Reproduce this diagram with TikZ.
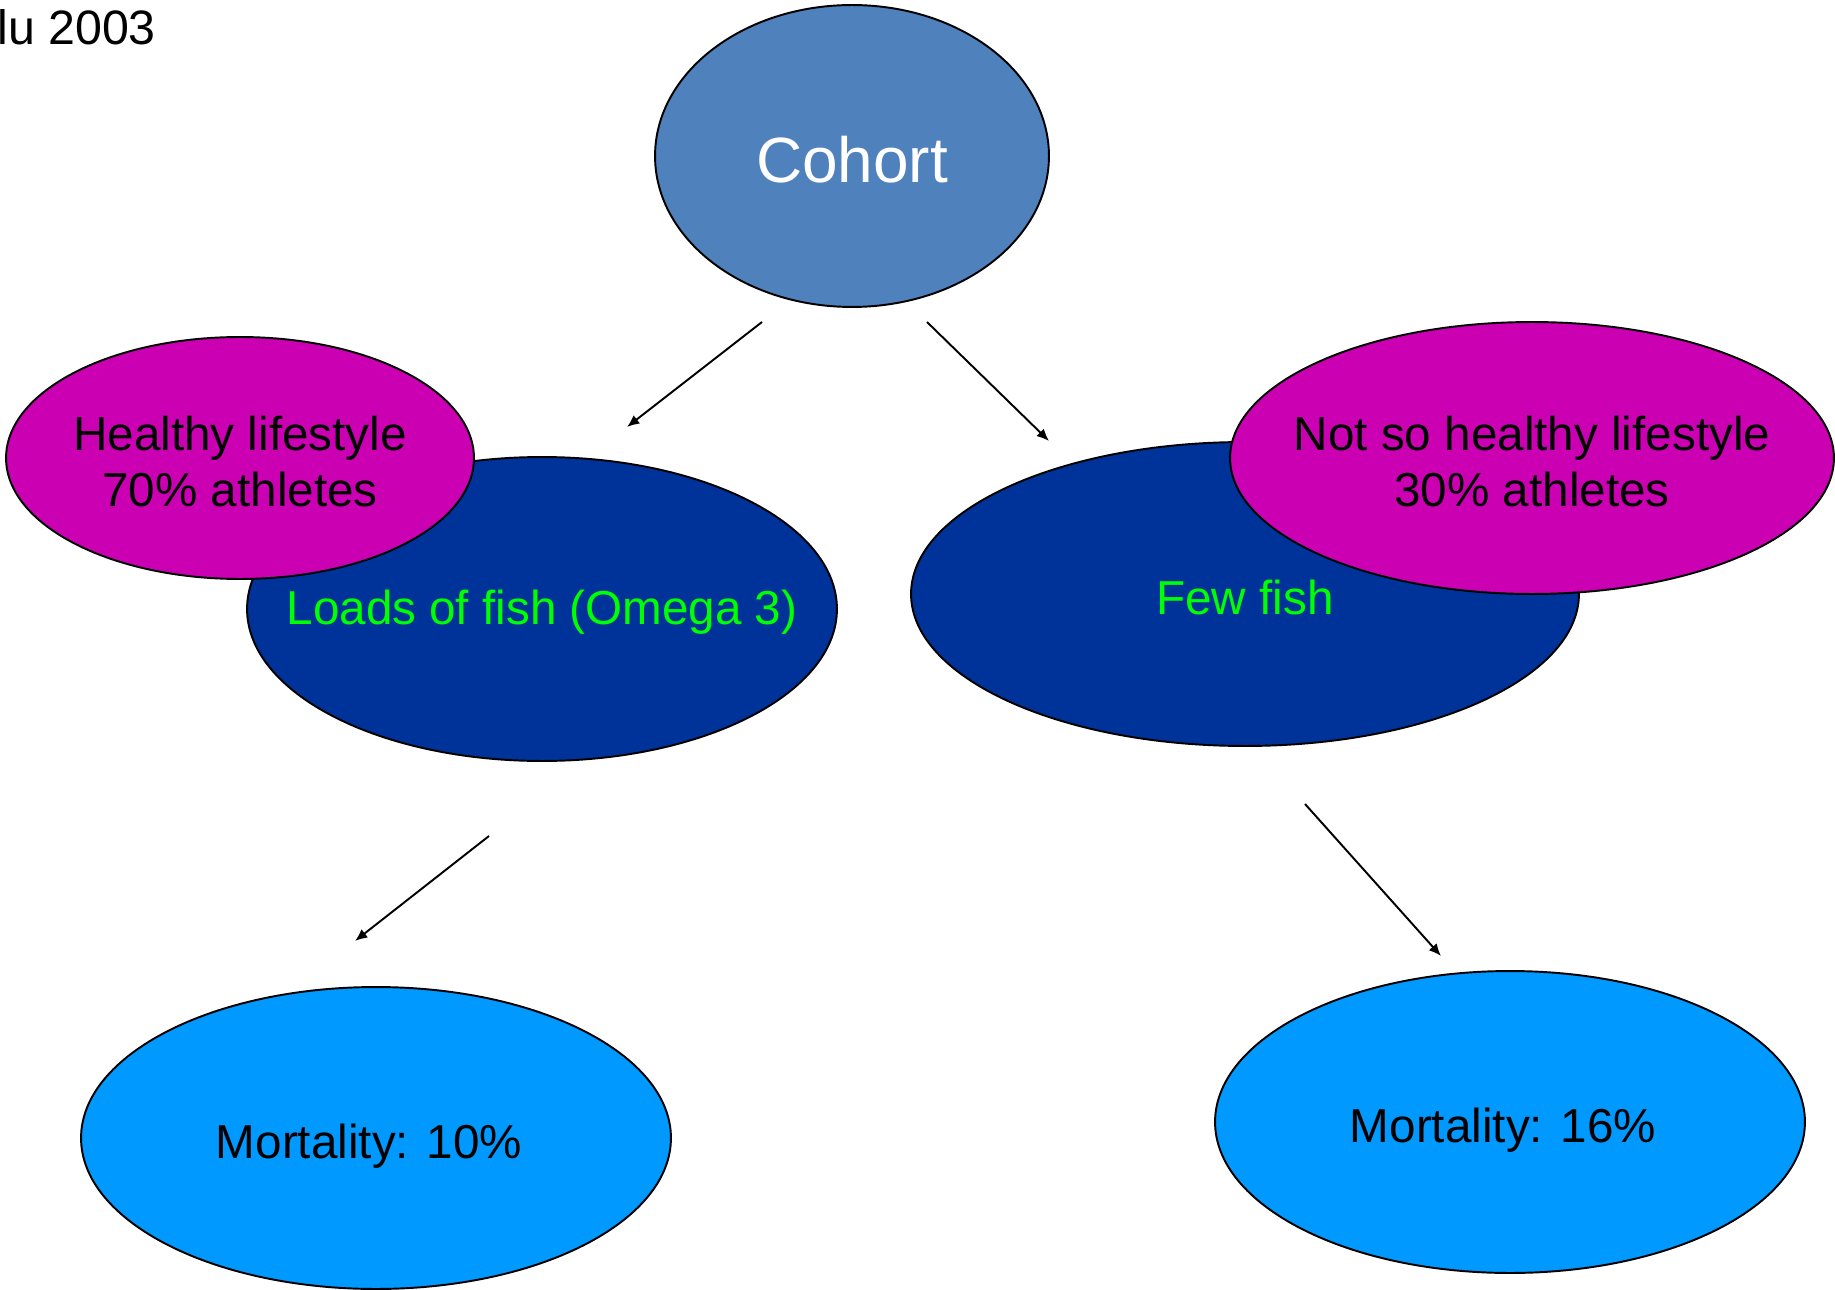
\documentclass[tikz,border=0pt]{standalone}
\usepackage{fontspec}
\setmainfont{Liberation Sans}
\usepackage{tikz}
\usetikzlibrary{shapes.geometric,arrows.meta}
\definecolor{cohortblue}{HTML}{4F81BD}
\definecolor{fishblue}{HTML}{003399}
\definecolor{lifepink}{HTML}{CC00B3}
\definecolor{mortblue}{HTML}{0099FF}
\definecolor{fishgreen}{HTML}{00FF00}
\tikzset{
  bubble/.style={ellipse,draw=black,line width=1.1pt,inner sep=0pt},
  arr/.style={-{Latex[length=7pt,width=6pt]},line width=1.1pt},
  txt/.style={font=\fontsize{27.1}{32.4}\selectfont,align=center,yshift=-0.07cm}
}
\begin{document}
\begin{tikzpicture}[x=0.02cm,y=-0.02cm]
 \useasboundingbox (0,0) rectangle (1835,1290);
 \node[anchor=base west,inner sep=0pt,font=\fontsize{27.5}{33}\selectfont] (ref) at (-3,45) {lu 2003};
 \node[bubble,fill=cohortblue,minimum width=7.88cm,minimum height=6.04cm,
   label={[txt,white,font=\fontsize{36.4}{42}\selectfont]center:Cohort}] (cohort) at (852,156) {};
 \node[bubble,fill=fishblue,minimum width=11.8cm,minimum height=6.08cm,
   label={[txt,fishgreen]center:Loads of fish (Omega 3)}] (loads) at (542,609) {};
 \node[bubble,fill=lifepink,minimum width=9.36cm,minimum height=4.84cm,
   label={[txt]center:Healthy lifestyle\\70\% athletes}] (healthy) at (240,458) {};
 \node[bubble,fill=fishblue,minimum width=13.36cm,minimum height=6.08cm,
   label={[txt,fishgreen]center:Few fish}] (few) at (1245,594) {};
 \node[bubble,fill=lifepink,minimum width=12.08cm,minimum height=5.44cm,
   label={[txt]center:Not so healthy lifestyle\\30\% athletes}] (unhealthy) at (1532,458) {};
 \node[bubble,fill=mortblue,minimum width=11.8cm,minimum height=6.04cm,
   label={[txt,xshift=-0.14cm,yshift=-0.1cm]center:Mortality: 10\%}] (mortlow) at (376,1138) {};
 \node[bubble,fill=mortblue,minimum width=11.8cm,minimum height=6.04cm,
   label={[txt,xshift=-0.14cm,yshift=-0.1cm]center:Mortality: 16\%}] (morthigh) at (1510,1122) {};
 \coordinate (c1) at (762,322);
 \coordinate (c2) at (627,427);
 \coordinate (c3) at (927,322);
 \coordinate (c4) at (1049,441);
 \coordinate (l1) at (489,836);
 \coordinate (l2) at (355,941);
 \coordinate (f1) at (1305,804);
 \coordinate (f2) at (1441,956);
 \draw[arr] (c1) -- (c2);
 \draw[arr] (c3) -- (c4);
 \draw[arr] (l1) -- (l2);
 \draw[arr] (f1) -- (f2);
\end{tikzpicture}
\end{document}
